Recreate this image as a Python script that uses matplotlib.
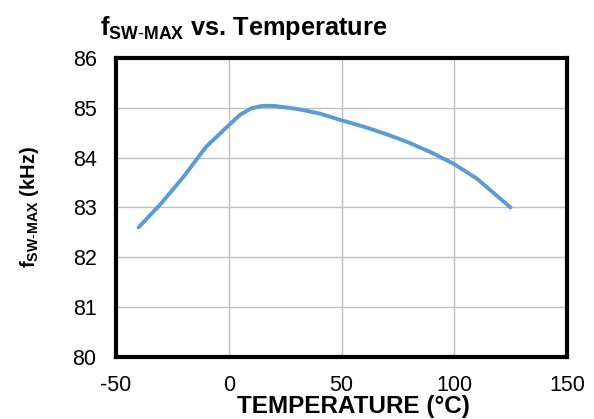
import matplotlib
matplotlib.use("Agg")
import matplotlib.pyplot as plt

plt.rcParams['font.family'] = ['Liberation Sans', 'DejaVu Sans']
plt.rcParams['mathtext.fontset'] = 'custom'
plt.rcParams['mathtext.rm'] = 'Liberation Sans'
plt.rcParams['mathtext.bf'] = 'Liberation Sans:bold'
plt.rcParams['axes.unicode_minus'] = False

temperature = [-40, -30, -20, -10, 0, 5, 10, 15, 20, 30, 40, 50, 60, 70, 80, 90, 100, 110, 125]
fsw_max = [82.6, 83.08, 83.62, 84.22, 84.65, 84.86, 84.99, 85.04, 85.04, 84.98, 84.89, 84.75,
           84.62, 84.47, 84.30, 84.10, 83.87, 83.58, 83.0]
xticks = [-50, 0, 50, 100, 150]
yticks = [80, 81, 82, 83, 84, 85, 86]

fig = plt.figure(figsize=(5.94, 4.19), dpi=100)
ax = fig.add_axes([116/594, 1-357/419, (567-116)/594, (357-58)/419])
ax.plot(temperature, fsw_max, color='#5B9BD5', lw=2.8, solid_capstyle='round', solid_joinstyle='round')
ax.set_xlim(-50, 150)
ax.set_ylim(80, 86)
ax.set_xticks(xticks)
ax.set_yticks(yticks)
ax.grid(True, color='#BFBFBF', lw=1)
ax.set_axisbelow(True)
ax.tick_params(length=0, labelsize=15.5)
ax.tick_params(axis='y', pad=14)
ax.tick_params(axis='x', pad=13)
for s in ax.spines.values():
    s.set_linewidth(3)
    s.set_color('black')
ax.set_xlabel('TEMPERATURE (°C)', fontsize=17.5, fontweight='bold', labelpad=-1)
ax.xaxis.label.set_x((353-116)/451)
ax.set_ylabel(r'f$_{\mathbf{SW\text{-}MAX}}$ (kHz)', fontsize=14.5, fontweight='bold')
ax.yaxis.set_label_coords(-(116-41)/451, 0.5)
fig.text(100/594, 1-28/419, r'f$_{\mathbf{SW\text{-}MAX}}$ vs. Temperature', fontsize=18.3, fontweight='bold', va='center', ha='left')
fig.savefig('out.png', dpi=100)
